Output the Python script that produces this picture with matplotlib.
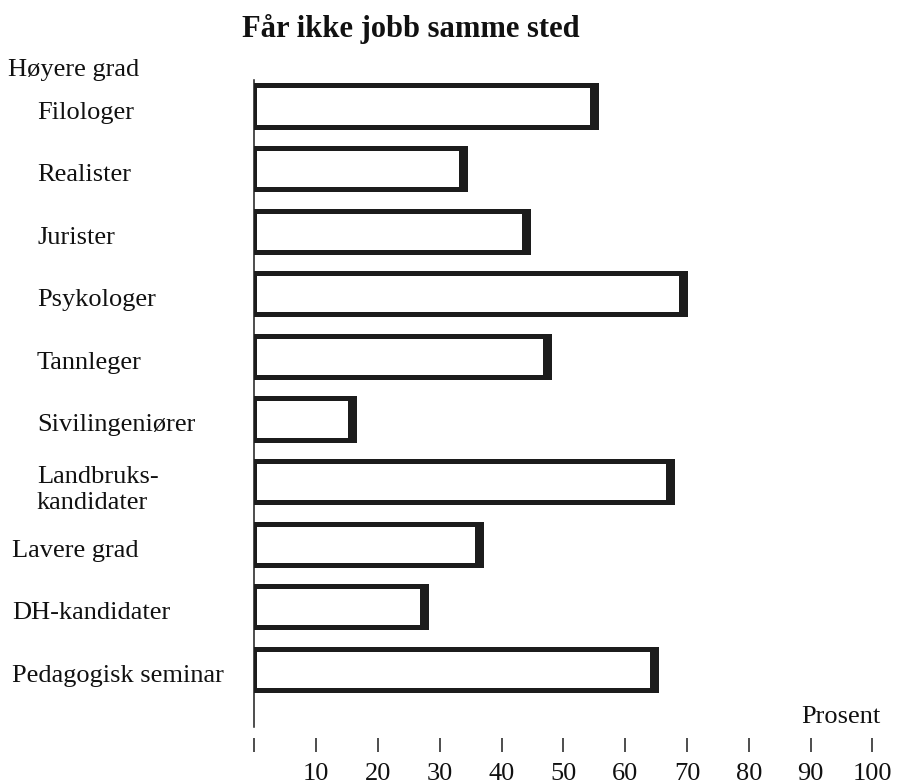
import matplotlib
matplotlib.use('Agg')
import matplotlib.pyplot as plt
import matplotlib.transforms as mtransforms
import numpy as np

plt.rcParams['font.family'] = ['Liberation Serif', 'DejaVu Serif']

# ---------------- data ----------------
title = "Får ikke jobb samme sted"
group_header = "Høyere grad"
categories = ["Filologer", "Realister", "Jurister", "Psykologer", "Tannleger",
              "Sivilingeniører", "Landbruks-\nkandidater", "Lavere grad",
              "DH-kandidater", "Pedagogisk seminar"]
values = [55.3, 34.1, 44.3, 69.7, 47.6, 16.1, 67.6, 36.7, 27.8, 64.9]
xticks = [0, 10, 20, 30, 40, 50, 60, 70, 80, 90, 100]
xticklabels = ["", "10", "20", "30", "40", "50", "60", "70", "80", "90", "100"]
unit_label = "Prosent"
indented = [True, True, True, True, True, True, True, False, False, False]

# ---------------- layout ----------------
W, H = 899, 784
DPI = 100
fig = plt.figure(figsize=(W / DPI, H / DPI), dpi=DPI)
fig.patch.set_facecolor('white')
ax = fig.add_axes([254.5 / W, 1 - 700.7 / H, 618 / W, 626 / H])

ink = '#1c1c1c'
txt = '#111111'
fs = 19
bar_h = 0.655

y = np.arange(len(categories))
vals = np.array(values)
ax.barh(y, vals, height=bar_h, color='white', edgecolor=ink, linewidth=3.6)
# thicker right-hand end of each bar
ax.vlines(vals - 0.65, y - bar_h / 2, y + bar_h / 2, colors=ink, linewidth=3.6)

ax.set_xlim(0, 100)
ax.set_ylim(len(categories) - 0.5, -0.5)
for s in ['top', 'right', 'left', 'bottom']:
    ax.spines[s].set_visible(False)
ax.spines['bottom'].set_position(('outward', 26.9))
ax.set_xticks(xticks)
ax.set_xticklabels(xticklabels)
ax.tick_params(axis='x', direction='out', length=10, width=1.1, color=ink,
               pad=8, labelsize=fs, labelcolor=txt)
ax.set_yticks([])

# zero line
ax.plot([0, 0], [0.9915, -0.042], transform=ax.get_xaxis_transform(),
        color=ink, lw=1.1, clip_on=False)

# category labels (va='baseline' aligns the last line of multi-line text)
base = mtransforms.blended_transform_factory(fig.transFigure, ax.transData)
for i, (c, ind) in enumerate(zip(categories, indented)):
    nextra = c.count('\n')
    dy = 12.5 + nextra * 14.5
    tr = base + mtransforms.ScaledTranslation(0, -dy / DPI, fig.dpi_scale_trans)
    x = (37 if ind else 12) / W
    ax.text(x, i, c, transform=tr, ha='left', va='baseline', fontsize=fs,
            color=txt, linespacing=1.2)

fig.text(8 / W, 1 - 76 / H, group_header, ha='left', va='baseline',
         fontsize=fs, color=txt)
fig.text(410.5 / W, 1 - 37 / H, title, ha='center', va='baseline',
         fontsize=22, fontweight='bold', color=txt)
fig.text(880 / W, 1 - 723 / H, unit_label, ha='right', va='baseline',
         fontsize=fs, color=txt)

fig.savefig('out.png', dpi=DPI, facecolor='white')
